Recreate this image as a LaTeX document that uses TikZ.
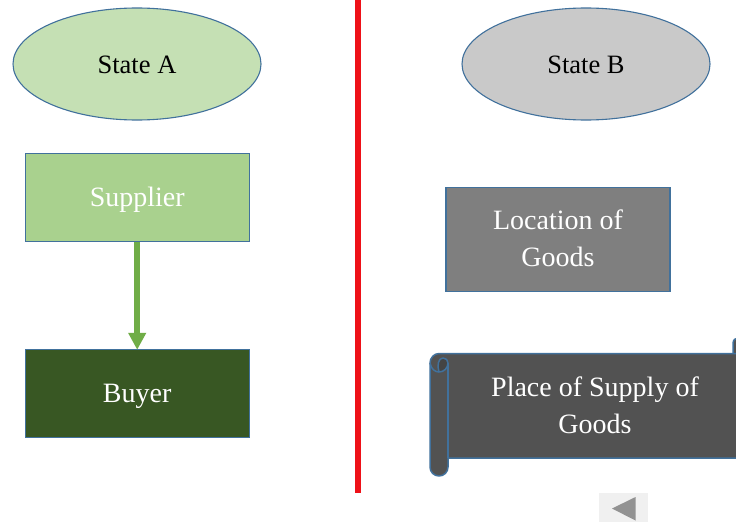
\documentclass[tikz,border=0pt]{standalone}
\usepackage{fontspec}
\setmainfont{Liberation Serif}
\usetikzlibrary{arrows.meta,shapes.geometric}
\definecolor{edge}{HTML}{41719C}
\tikzset{
  lbl/.style={font=\fontsize{28}{37}\selectfont,align=center,inner sep=0pt},
  oneline/.style={text height=17pt,text depth=0pt},
  boxa/.style={rectangle,draw=edge,line width=1.1pt,minimum width=224pt,minimum height=88pt,inner sep=0pt,outer sep=0pt,text=white,lbl},
  oval/.style={ellipse,draw=edge,line width=1.1pt,minimum width=248pt,minimum height=112pt,inner sep=0pt,outer sep=0pt,text=black,lbl,font=\fontsize{26.5}{37}\selectfont},
  scrolledge/.style={draw=edge,line width=1.5pt,line join=round}
}
\begin{document}
\begin{tikzpicture}[x=1pt,y=-1pt]
\clip (0,0) rectangle (736,522);
\fill[white] (0,0) rectangle (736,522);
\fill[fill={rgb,255:red,238;green,17;blue,24}] (355,0) rectangle (361,493);
\node[oval,oneline,fill={rgb,255:red,197;green,224;blue,180}] (stateA) at (137,64) {\raisebox{-1pt}{State A}};
\node[oval,oneline,fill={rgb,255:red,201;green,201;blue,201}] (stateB) at (586,64) {\raisebox{-1pt}{State B}};
\node[boxa,oneline,fill={rgb,255:red,169;green,209;blue,142}] (supplier) at (137.2,197.8) {Supplier};
\node[boxa,oneline,fill={rgb,255:red,56;green,87;blue,35}] (buyer) at (137.2,393.8) {Buyer};
\node[boxa,minimum height=104pt,fill={rgb,255:red,127;green,127;blue,127}] (location) at (558,239.8) {Location of\\Goods\rule[-3pt]{0pt}{1pt}};
\draw[line width=6pt,draw={rgb,255:red,112;green,173;blue,71},-{Triangle[length=17pt,width=17pt]}] (supplier) -- (buyer);
% far end of the scroll
\path[fill={rgb,255:red,82;green,82;blue,82},scrolledge] (733,356) -- (733,344) .. controls (733,340) and (735,338) .. (738,338) -- (745,356) -- cycle;
% scroll body
\path[fill={rgb,255:red,82;green,82;blue,82},scrolledge]
  (760,353.5) -- (439,353.5) .. controls (434,353.5) and (430,358) .. (430,363)
  -- (430,467) .. controls (430,472) and (434,476) .. (439,476) .. controls (444,476) and (448,472) .. (448,467)
  -- (448,458) -- (760,458) -- cycle;
% roll details
\draw[scrolledge] (448,363) -- (448,458);
\draw[scrolledge] (430,363) .. controls (431,369) and (435,372) .. (439,372);
\path[fill={rgb,255:red,68;green,68;blue,68},scrolledge] (439,372) .. controls (437,366) and (438,358) .. (443,358) .. controls (446,358) and (448,360) .. (448,363) .. controls (448,368) and (444,372) .. (439,372) -- cycle;
\node[lbl,text=white] (placeText) at (595,405) {Place of Supply of\\Goods};
% back button
\fill[fill={rgb,255:red,240;green,240;blue,240}] (599,493) rectangle (648,522);
\fill[fill={rgb,255:red,146;green,146;blue,146}] (612,508.5) -- (635.5,497) -- (635.5,520.5) -- cycle;
\end{tikzpicture}
\end{document}
